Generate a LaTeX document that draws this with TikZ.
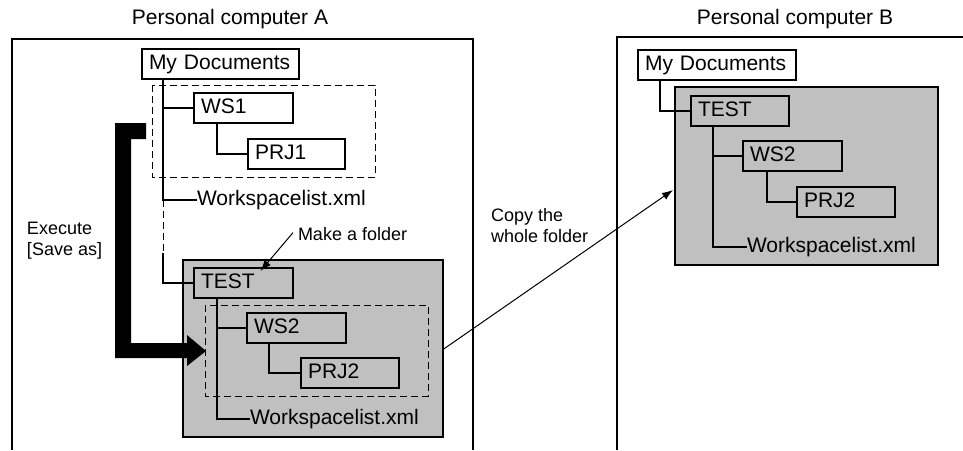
\documentclass[tikz,border=0pt]{standalone}
\usepackage{fontspec}
\setmainfont{Liberation Sans}
\usetikzlibrary{arrows.meta}
\definecolor{boxgray}{HTML}{C0C0C0}
\begin{document}
\begin{tikzpicture}[x=1pt,y=-1pt,
  every node/.style={font=\fontsize{21}{25}\selectfont, outer sep=0pt},
  fbox/.style={draw, line width=1.4pt, minimum height=30pt, inner xsep=7pt, inner ysep=0pt,
    text height=15pt, text depth=4pt, anchor=north west, align=left, text width=#1},
  gbox/.style={draw, line width=1.4pt, fill=boxgray, anchor=north west},
  wlist/.style={anchor=west, inner sep=0pt},
  title/.style={inner sep=0pt},
  note/.style={font=\fontsize{18}{21}\selectfont, anchor=north west, inner sep=0pt, align=left},
  tree/.style={line width=2pt},
  dline/.style={line width=1pt, dash pattern=on 7pt off 4pt},
  dbox/.style={line width=1pt, dash pattern=on 7pt off 4pt},
  pcline/.style={line width=1.3pt},
  thinarrow/.style={line width=1pt, -{Latex[length=11pt,width=8pt]}}
]
\useasboundingbox (0,0) rectangle (963,450);

% titles
\node[title] (tA) at (230,19) {Personal computer A};
\node[title] (tB) at (795,19) {Personal computer B};

% computer frames (open at the bottom)
\draw[pcline] (12,450) -- (12,39) -- (473,39) -- (473,450);
\draw[pcline] (617,450) -- (617,37) -- (963,37);

% ---------- Computer A ----------
\node[gbox, minimum width=260pt, minimum height=177pt] (grayA) at (183,260) {};
\draw[dbox] (152,85) rectangle (375,177);
\draw[dbox] (205,305) rectangle (428,396);

\node[fbox=143pt] (mdA) at (142,49) {My Documents};
\node[fbox=85pt] (ws1) at (194,93) {WS1};
\node[fbox=83pt] (prj1) at (248,139) {PRJ1};
\node[wlist] (wlA1) at (197,200) {Workspacelist.xml};

\node[fbox=85pt, fill=boxgray] (testA) at (194,268) {TEST};
\node[fbox=85pt, fill=boxgray] (ws2A) at (247,313) {WS2};
\node[fbox=84pt, fill=boxgray] (prj2A) at (301,358) {PRJ2};
\node[wlist] (wlA2) at (250,419) {Workspacelist.xml};

\path ([xshift=21pt]mdA.south west) coordinate (trA);
\draw[tree] (trA) |- (ws1.west);
\draw[tree] (trA) |- (wlA1.west);
\draw[tree] ([xshift=23pt]ws1.south west) |- (prj1.west);
\coordinate (dA) at (163,253);
\draw[dline] (trA |- wlA1.west) -- (dA);
\draw[tree] (dA) |- (testA.west);

\path ([xshift=23pt]testA.south west) coordinate (trT);
\draw[tree] (trT) |- (ws2A.west);
\draw[tree] (trT) |- (wlA2.west);
\draw[tree] ([xshift=22pt]ws2A.south west) |- (prj2A.west);

% big "save as" arrow
\fill (115,123) -- (146,123) -- (146,139) -- (131,139) -- (131,343) -- (187,343) -- (187,335)
  -- (206,351) -- (187,366) -- (187,358) -- (115,358) -- cycle;
\node[note] (exec) at (27,222) {Execute\\{[Save as]}};

\node[note] (mkf) at (298,227) {Make a folder};
\draw[thinarrow] ([xshift=-5pt,yshift=1pt]mkf.west) -- ([xshift=17pt,yshift=-3pt]testA.north);

% ---------- Computer B ----------
\node[gbox, minimum width=263pt, minimum height=178pt] (grayB) at (675,87) {};
\node[fbox=144pt] (mdB) at (638,50) {My Documents};
\node[fbox=84pt, fill=boxgray] (testB) at (691,96) {TEST};
\node[fbox=85pt, fill=boxgray] (ws2B) at (743,141) {WS2};
\node[fbox=84pt, fill=boxgray] (prj2B) at (797,187) {PRJ2};
\node[wlist] (wlB) at (747,247) {Workspacelist.xml};

\draw[tree] ([xshift=22pt]mdB.south west) |- (testB.west);
\path ([xshift=22pt]testB.south west) coordinate (trB);
\draw[tree] (trB) |- (ws2B.west);
\draw[tree] (trB) |- (wlB.west);
\draw[tree] ([xshift=24pt]ws2B.south west) |- (prj2B.west);

% copy arrow
\node[note] (copy) at (491,208) {Copy the\\whole folder};
\draw[thinarrow] ([yshift=-1pt]grayA.east) -- ([xshift=-2pt,yshift=-14pt]grayB.west);
\end{tikzpicture}
\end{document}
